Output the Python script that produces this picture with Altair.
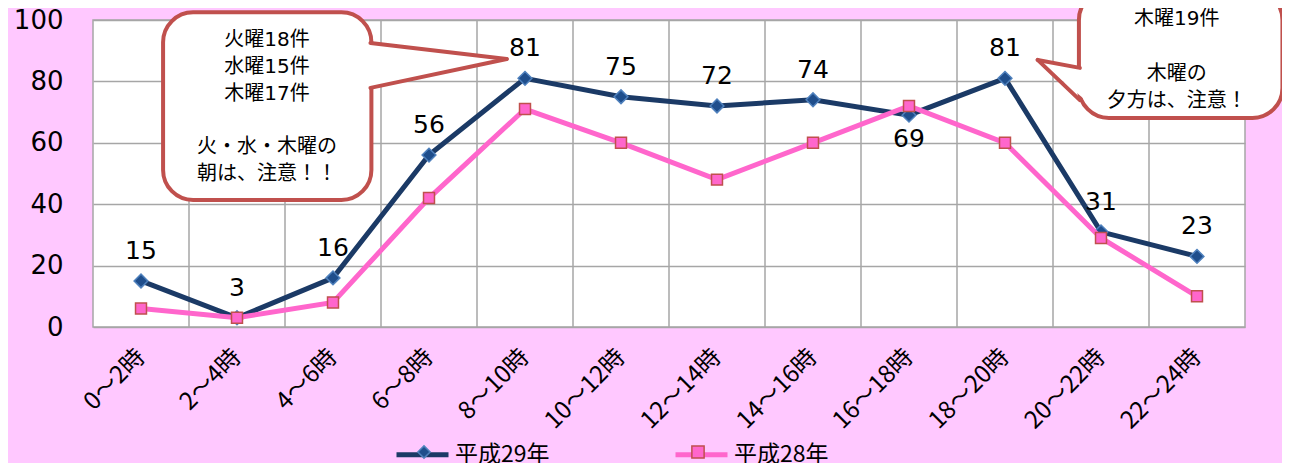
import altair as alt
import pandas as pd

# ---- data ----
categories = ["0〜2時", "2〜4時", "4〜6時", "6〜8時", "8〜10時", "10〜12時",
              "12〜14時", "14〜16時", "16〜18時", "18〜20時", "20〜22時", "22〜24時"]
h29 = [15, 3, 16, 56, 81, 75, 72, 74, 69, 81, 31, 23]
h28 = [6, 3, 8, 42, 71, 60, 48, 60, 72, 60, 29, 10]
series_names = ["平成29年", "平成28年"]
y_ticks = [0, 20, 40, 60, 80, 100]

callout_texts = ["火曜18件\n水曜15件\n木曜17件", "火・水・木曜の\n朝は、注意！！",
                 "木曜19件", "木曜の\n夕方は、注意！"]

# ---- tables ----
rows = []
for i, c in enumerate(categories):
    rows.append({"idx": i, "cat": c, "series": series_names[0], "value": h29[i]})
    rows.append({"idx": i, "cat": c, "series": series_names[1], "value": h28[i]})
df = pd.DataFrame(rows)
marker_names = [s + "・" for s in series_names]
df["series_m"] = df["series"] + "・"

bounds = pd.DataFrame({"b": [i + 0.5 for i in range(len(categories) - 1)]})

FONT = "DejaVu Sans, Noto Sans CJK JP"
CJK = "Noto Sans CJK JP"
NAVY = "#1B3A66"
PINK = "#FF66CC"
CALLOUT = "#C0504D"
GRID = "#A6A6A6"

label_arr = "[" + ",".join("'" + c + "'" for c in categories) + "]"

xscale = alt.Scale(domain=[-0.5, len(categories) - 0.5], nice=False, zero=False)
yscale = alt.Scale(domain=[0, 100], nice=False)

x_enc = alt.X("idx:Q", scale=xscale, title=None,
              axis=alt.Axis(values=list(range(len(categories))), labelExpr=label_arr + "[datum.value]",
                            grid=False, domain=False, ticks=False, labelAngle=315,
                            labelAlign="right", labelBaseline="middle", labelFontSize=24,
                            labelPadding=26, labelColor="black", labelFont=CJK))
y_enc = alt.Y("value:Q", scale=yscale, title=None,
              axis=alt.Axis(values=y_ticks, grid=True, gridColor=GRID, gridWidth=1.5,
                            domain=False, ticks=False, labelFontSize=26, labelPadding=30,
                            labelColor="black", labelFont=FONT))

base = alt.Chart(df)

vgrid = alt.Chart(bounds).mark_rule(color=GRID, strokeWidth=1.5).encode(
    x=alt.X("b:Q", scale=xscale))

color_enc = alt.Color("series:N", scale=alt.Scale(domain=series_names, range=[NAVY, PINK]),
                      legend=alt.Legend(title=None, orient="none", direction="horizontal",
                                        legendX=301, legendY=406, symbolType="stroke",
                                        symbolSize=2704, symbolStrokeWidth=5,
                                        labelFontSize=23, labelFont=CJK, labelOffset=4,
                                        columnPadding=115, padding=0, labelColor="black"))

shape_legend = alt.Legend(title=None, orient="none", direction="horizontal",
                          legendX=301, legendY=422, symbolSize=150, symbolOffset=20,
                          symbolStrokeWidth=1.5, labelExpr="''", labelFontSize=20,
                          labelFont=CJK, labelOffset=24, columnPadding=210, padding=0)
shape_enc = alt.Shape("series_m:N", scale=alt.Scale(domain=marker_names, range=["diamond", "square"]),
                      legend=shape_legend)
fill_enc = alt.Fill("series_m:N", scale=alt.Scale(domain=marker_names, range=["#1F4E8C", PINK]),
                    legend=shape_legend)
stroke_enc = alt.Stroke("series_m:N", scale=alt.Scale(domain=marker_names, range=["#4F81BD", CALLOUT]),
                        legend=shape_legend)

layers = [vgrid]
for s, size in zip(series_names, [190, 120]):
    layers.append(base.transform_filter(alt.datum.series == s).mark_line(strokeWidth=5).encode(
        x=x_enc, y=y_enc, color=color_enc, order="idx:Q"))
    layers.append(base.transform_filter(alt.datum.series == s).mark_point(
        filled=True, size=size, strokeWidth=1.5, opacity=1).encode(
        x=x_enc, y=y_enc, shape=shape_enc, fill=fill_enc, stroke=stroke_enc))

# data labels for 平成29年
lab = base.transform_filter(alt.datum.series == series_names[0])
layers.append(lab.transform_filter(alt.datum.idx != 8).mark_text(
    dy=-30, fontSize=25, font=FONT, color="black").encode(
    x=alt.X("idx:Q", scale=xscale), y=alt.Y("value:Q", scale=yscale), text="value:Q"))
layers.append(lab.transform_filter(alt.datum.idx == 8).mark_text(
    dy=24, fontSize=25, font=FONT, color="black").encode(
    x=alt.X("idx:Q", scale=xscale), y=alt.Y("value:Q", scale=yscale), text="value:Q"))

# ---- callouts (annotation geometry in data units) ----
boxes = pd.DataFrame({"x1": [0.23, 9.77], "x2": [2.40, 11.89],
                      "y1": [41.4, 68.1], "y2": [102.5, 109.8]})
box_layer = alt.Chart(boxes).mark_rect(cornerRadius=30, fill="white", stroke=CALLOUT,
                                       strokeWidth=4).encode(
    x=alt.X("x1:Q", scale=xscale), x2="x2:Q",
    y=alt.Y("y1:Q", scale=yscale), y2="y2:Q")

ptr_l = pd.DataFrame({"px": [2.33, 3.81], "py": [92.5, 87.3], "py2": [77.9, 87.3]})
ptr_r = pd.DataFrame({"px": [9.34, 9.84], "py": [87.0, 84.4], "py2": [87.0, 73.9]})

def pointer(d):
    return alt.Chart(d).mark_area(fill="white", opacity=1).encode(
        x=alt.X("px:Q", scale=xscale), y=alt.Y("py:Q", scale=yscale), y2="py2:Q")

edges = pd.DataFrame({"ex": [2.39, 2.39, 9.78, 9.78], "ey": [92.5, 77.9, 84.4, 73.9],
                      "ex2": [3.81, 3.81, 9.34, 9.34], "ey2": [87.3, 87.3, 87.0, 87.0]})
edge_layer = alt.Chart(edges).mark_rule(color=CALLOUT, strokeWidth=4, strokeCap="round").encode(
    x=alt.X("ex:Q", scale=xscale), x2="ex2:Q", y=alt.Y("ey:Q", scale=yscale), y2="ey2:Q")

# first line of each text block is anchored at (tx, ty)
texts = pd.DataFrame({"tx": [1.3125, 1.3125, 10.79, 10.79], "ty": [93.5, 58.6, 100.4, 82.4],
                      "t": callout_texts})
text_layer = alt.Chart(texts).mark_text(fontSize=20, font=FONT, lineBreak="\n", lineHeight=27,
                                        color="black", align="center", baseline="middle").encode(
    x=alt.X("tx:Q", scale=xscale), y=alt.Y("ty:Q", scale=yscale), text="t:N")

layers += [box_layer, pointer(ptr_l), pointer(ptr_r), edge_layer, text_layer]

chart = alt.layer(*layers).properties(
    width=1152, height=307,
    autosize=alt.AutoSizeParams(type="none"),
    padding={"left": 85, "top": 12, "right": 37, "bottom": 136},
    background="#FFC8FF",
).configure_view(fill="white", stroke=GRID, strokeWidth=1.5)

chart.save("out.html", embed_options={"renderer": "svg", "actions": False})
